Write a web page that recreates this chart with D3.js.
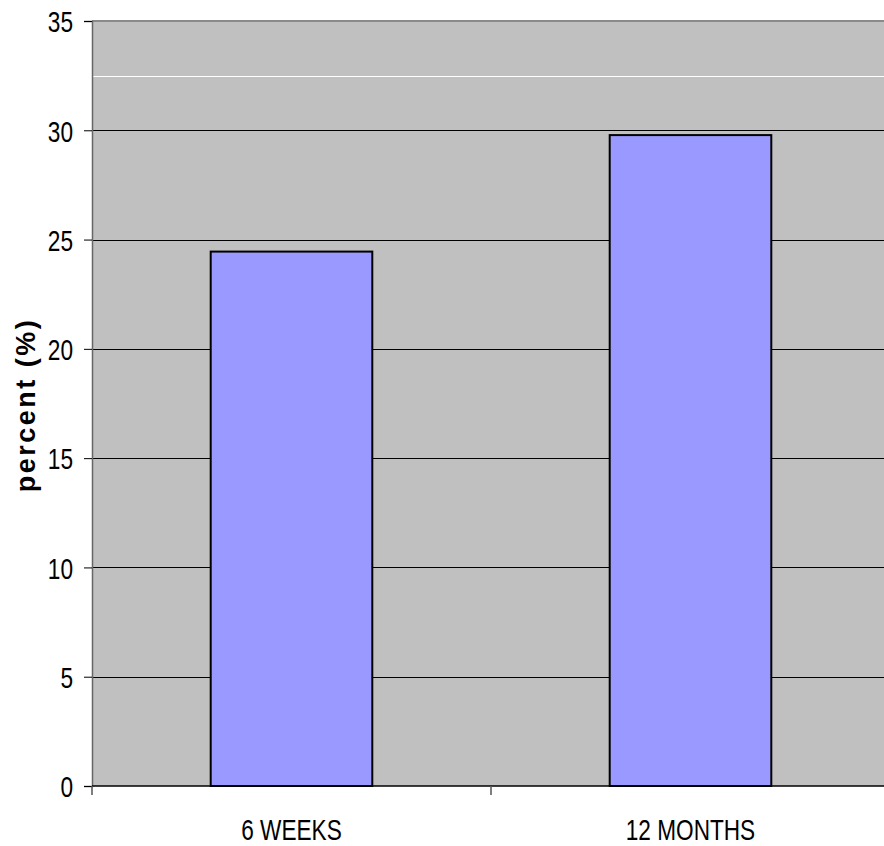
<!DOCTYPE html>
<html>
<head>
<meta charset="utf-8">
<script src="https://cdn.jsdelivr.net/npm/d3@7"></script>
<style>
  html, body { margin: 0; padding: 0; background: #fff; }
  svg { display: block; }
  text { font-family: "Liberation Sans", Arial, sans-serif; fill: #000; }
</style>
</head>
<body>
<svg id="chart" width="884" height="846"></svg>
<script>
const categories = ["6 WEEKS", "12 MONTHS"];
const values = [24.45, 29.78];
const yTicks = [0, 5, 10, 15, 20, 25, 30, 35];
const extraWhiteLines = [32.5];
const yLabel = "percent (%)";

const svg = d3.select("#chart");
const mLeft = 92, mTop = 21, mBottom = 786, mRight = 890;

const y = d3.scaleLinear().domain([0, 35]).range([mBottom, mTop]);
const x = d3.scaleBand().domain(categories).range([mLeft, mRight])
  .paddingInner(0.595).paddingOuter(0.2975);

// plot background
svg.append("rect").attr("x", mLeft).attr("y", mTop)
  .attr("width", mRight - mLeft).attr("height", mBottom - mTop)
  .attr("fill", "#C0C0C0");

// gridlines
svg.append("g").selectAll("line").data(yTicks.filter(d => d > 0 && d < 35)).join("line")
  .attr("x1", mLeft).attr("x2", mRight)
  .attr("y1", d => Math.round(y(d)) + 0.5).attr("y2", d => Math.round(y(d)) + 0.5)
  .attr("stroke", "#000").attr("stroke-width", 1);

svg.append("g").selectAll("line").data(extraWhiteLines).join("line")
  .attr("x1", mLeft).attr("x2", mRight)
  .attr("y1", d => Math.round(y(d)) + 0.5).attr("y2", d => Math.round(y(d)) + 0.5)
  .attr("stroke", "#fff").attr("stroke-width", 1);

// top border
svg.append("line").attr("x1", mLeft).attr("x2", mRight)
  .attr("y1", mTop).attr("y2", mTop)
  .attr("stroke", "#8a8a8a").attr("stroke-width", 2);

// bars
svg.append("g").selectAll("rect").data(values).join("rect")
  .attr("x", (d, i) => x(categories[i]))
  .attr("y", d => y(d))
  .attr("width", x.bandwidth())
  .attr("height", d => mBottom - y(d))
  .attr("fill", "#9999FF")
  .attr("stroke", "#000").attr("stroke-width", 2);

// y axis
const yAxis = d3.axisLeft(y).tickValues(yTicks).tickSize(8).tickPadding(11);
const ya = svg.append("g").attr("transform", `translate(${mLeft},0)`).call(yAxis);
ya.select(".domain").attr("stroke", "#666").attr("stroke-width", 1.5);
ya.selectAll(".tick line").attr("stroke", "#000");
ya.selectAll(".tick text")
  .attr("font-size", 30)
  .attr("font-family", "Liberation Sans, Arial, sans-serif")
  .attr("dy", "0.36em")
  .each(function() {
    const t = d3.select(this);
    const tx = +t.attr("x");
    t.attr("x", null).attr("transform", `translate(${tx},0) scale(0.755,1)`);
  });

// x axis
svg.append("line").attr("x1", mLeft).attr("x2", mRight)
  .attr("y1", mBottom).attr("y2", mBottom)
  .attr("stroke", "#000").attr("stroke-width", 1.5);
const sepTicks = [mLeft, (x(categories[0]) + x.bandwidth() + x(categories[1])) / 2];
svg.append("g").selectAll("line").data(sepTicks).join("line")
  .attr("x1", d => d).attr("x2", d => d)
  .attr("y1", mBottom).attr("y2", mBottom + 9)
  .attr("stroke", "#555").attr("stroke-width", 1.5);

svg.append("g").selectAll("text").data(categories).join("text")
  .attr("transform", d => `translate(${x(d) + x.bandwidth() / 2},839.5) scale(0.78,1)`)
  .attr("text-anchor", "middle")
  .attr("font-size", 29)
  .text(d => d);

// y label
svg.append("text")
  .attr("transform", `translate(35,405) rotate(-90)`)
  .attr("text-anchor", "middle")
  .attr("font-size", 27)
  .attr("font-weight", "bold")
  .attr("letter-spacing", 2.5)
  .text(yLabel);
</script>
</body>
</html>
